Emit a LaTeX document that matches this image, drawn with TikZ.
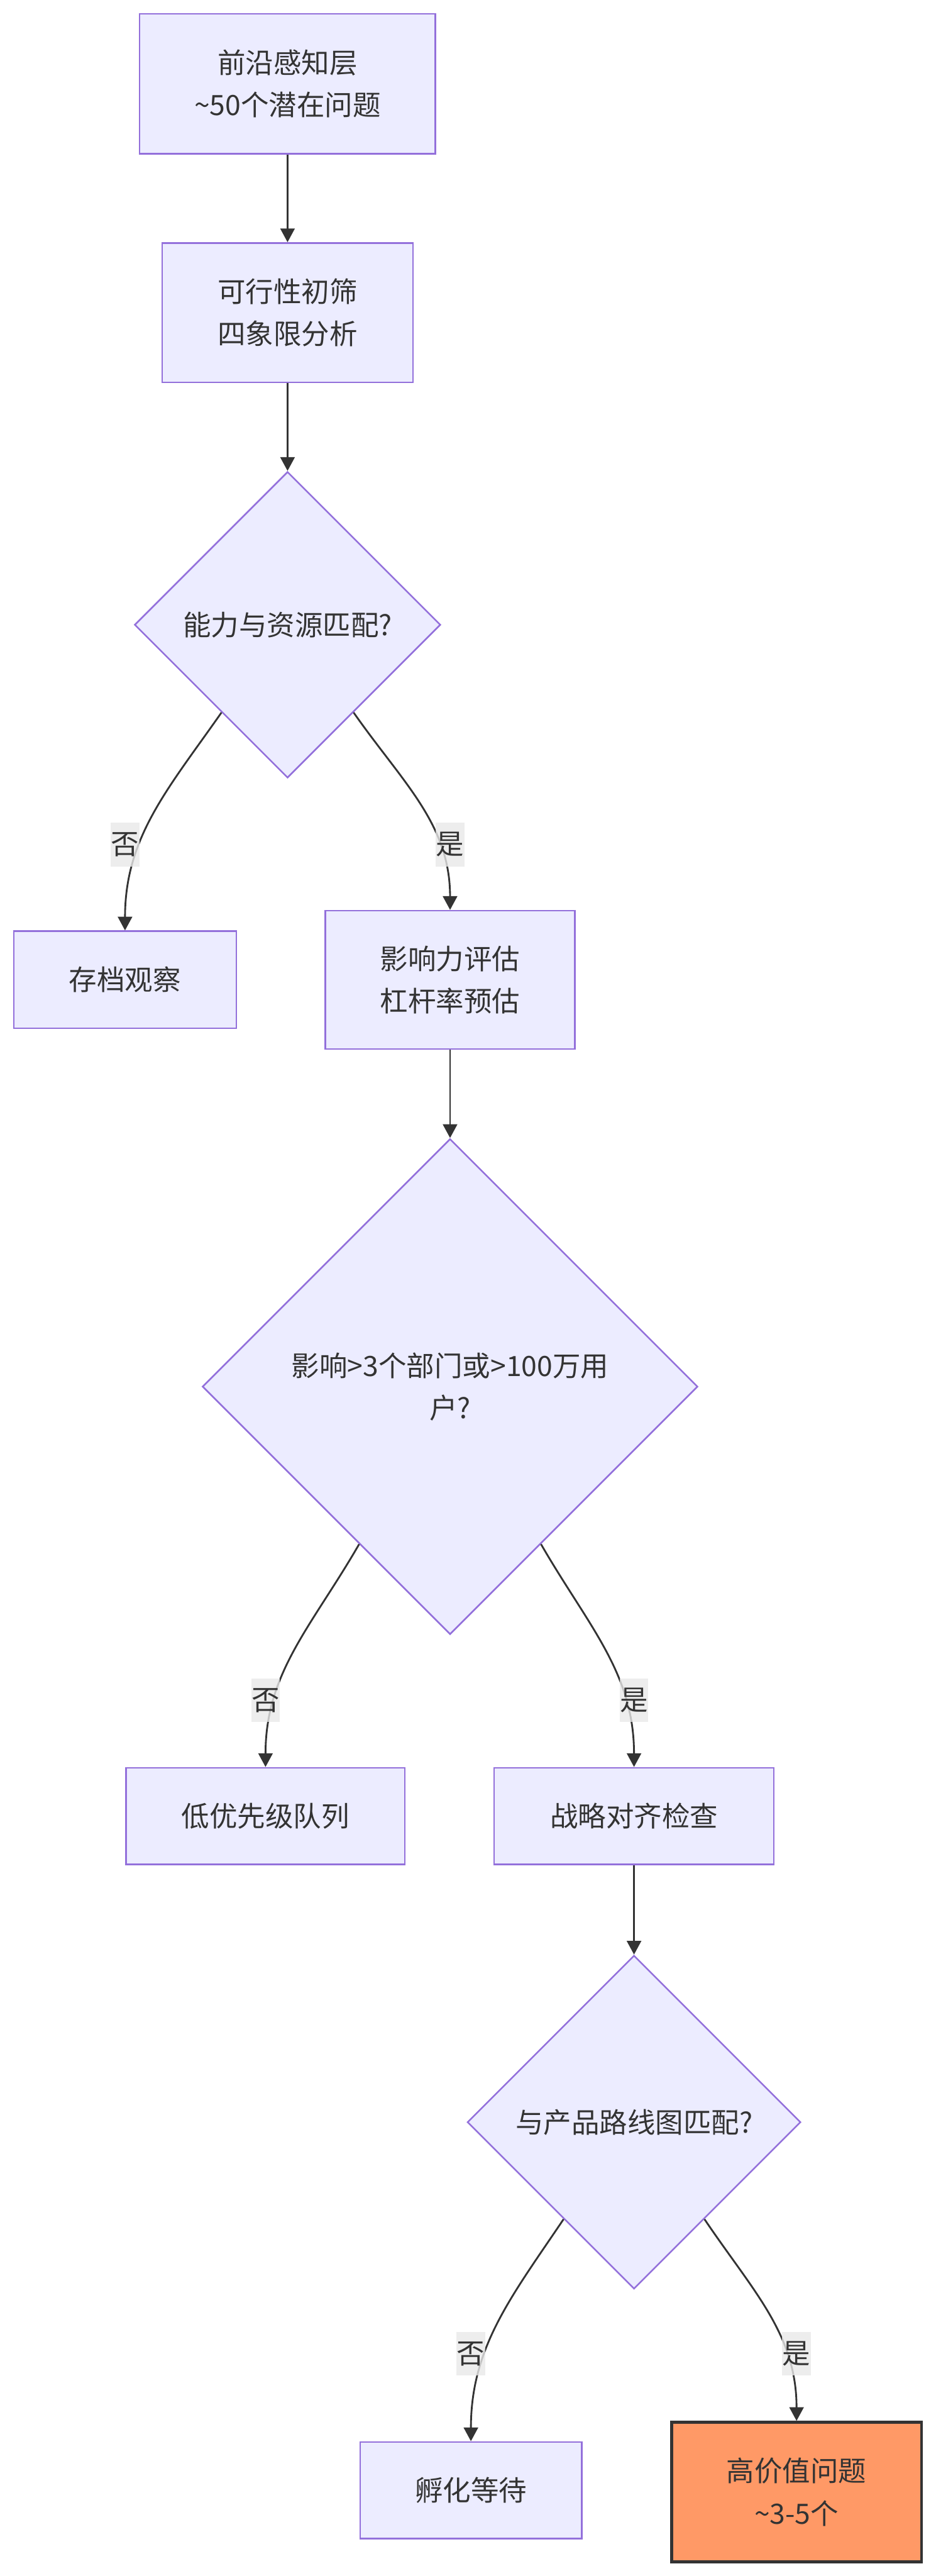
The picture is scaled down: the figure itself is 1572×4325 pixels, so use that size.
\documentclass[tikz,border=0pt]{standalone}
\usepackage{fontspec}
\setmainfont{Noto Sans CJK SC}
\usepackage{tikz}
\usetikzlibrary{shapes.geometric, arrows.meta}
\definecolor{boxfill}{RGB}{236, 236, 255}
\definecolor{boxline}{RGB}{147, 112, 219}
\definecolor{edgeline}{RGB}{51, 51, 51}
\definecolor{labelfill}{RGB}{232, 232, 232}
\definecolor{hotfill}{RGB}{255, 153, 102}

\tikzset{
	stepbox/.style={draw=boxline, fill=boxfill, line width=1.35pt, text=edgeline,
		align=center, inner sep=0pt, font=\fontsize{23.5}{35.5}\selectfont},
	decide/.style={stepbox, diamond, aspect=1},
	yesno/.style={fill=labelfill, fill opacity=0.8, text opacity=1, text=edgeline,
		inner sep=0pt, minimum width=24pt, minimum height=36.5pt,
		font=\fontsize{23.5}{35.5}\selectfont},
	flow/.style={draw=edgeline, line width=1.5pt, -{Triangle[length=11.5pt, width=12pt]}}
}

\begin{document}
\begin{tikzpicture}[x=0.5pt, y=-0.5pt]
			\useasboundingbox (0,0) rectangle (1572,4325);

			% main column
			\node[stepbox, minimum width=248.5pt, minimum height=117.5pt] (sense) at (483, 140.5) {前沿感知层\\\textasciitilde50个潜在问题};
			\node[stepbox, minimum width=210.5pt, minimum height=117pt] (screen) at (483, 525) {可行性初筛\\四象限分析};
			\node[decide, minimum width=257pt, minimum height=257pt] (fit) at (483, 1049) {能力与资源匹配?};

			% first split
			\node[stepbox, minimum width=187pt, minimum height=81.5pt] (archive) at (210, 1645) {存档观察};
			\node[stepbox, minimum width=209.5pt, minimum height=116pt] (impact) at (756, 1645) {影响力评估\\杠杆率预估};
			\node[decide, minimum width=416pt, minimum height=416pt] (reach) at (756, 2328) {影响>3个部门或>100万用\\户?};

			% second split
			\node[stepbox, minimum width=234pt, minimum height=81pt] (lowq) at (446, 3049) {低优先级队列};
			\node[stepbox, minimum width=235pt, minimum height=81pt] (align) at (1065, 3049) {战略对齐检查};
			\node[decide, minimum width=280pt, minimum height=280pt] (roadmap) at (1065, 3563) {与产品路线图匹配?};

			% outcomes
			\node[stepbox, minimum width=186pt, minimum height=81pt] (incubate) at (791, 4181) {孵化等待};
			\node[stepbox, draw=edgeline, fill=hotfill, line width=2.5pt, minimum width=210pt, minimum height=117pt] (highval) at (1338, 4184) {高价值问题\\\textasciitilde3-5个};

			\draw[flow] (sense) -- (screen);
			\draw[flow] (screen) -- (fit);
			\draw[flow] (fit.233) to[out=235, in=90] (archive.north);
			\draw[flow] (fit.307) to[out=305, in=90] (impact.north);
			\draw[flow] (impact) -- (reach);
			\draw[flow] (reach.240) to[out=240, in=90] (lowq.north);
			\draw[flow] (reach.300) to[out=300, in=90] (align.north);
			\draw[flow] (align) -- (roadmap);
			\draw[flow] (roadmap.234) to[out=236, in=90] (incubate.north);
			\draw[flow] (roadmap.306) to[out=304, in=90] (highval.north);

			% edge labels
			\node[yesno] (fitno) at (210, 1418) {否};
			\node[yesno] (fityes) at (756, 1418) {是};
			\node[yesno] (reachno) at (446, 2855) {否};
			\node[yesno] (reachyes) at (1065, 2855) {是};
			\node[yesno] (roadno) at (791, 3952) {否};
			\node[yesno] (roadyes) at (1338, 3952) {是};

		\end{tikzpicture}
\end{document}
